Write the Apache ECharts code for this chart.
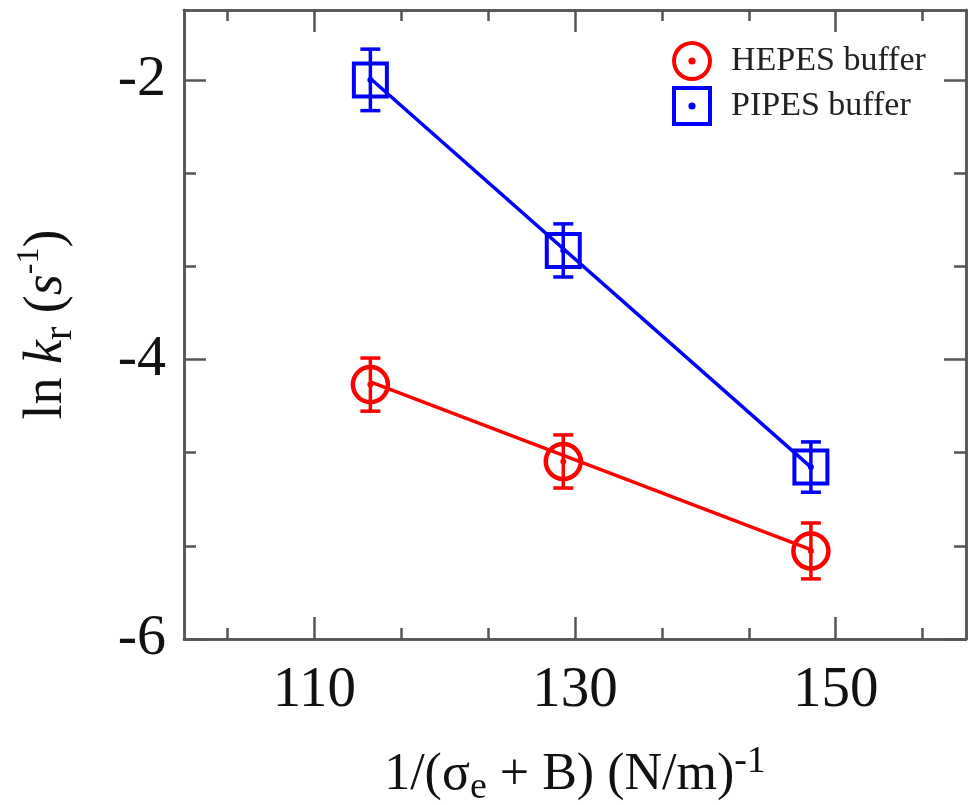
<!DOCTYPE html>
<html>
<head>
<meta charset="utf-8">
<script src="https://cdn.jsdelivr.net/npm/echarts@6/dist/echarts.min.js"></script>
<style>
html,body{margin:0;padding:0;background:#fff;}
#chart{width:974px;height:805px;}
</style>
</head>
<body>
<div id="chart"></div>
<script>
// ---- data ----
var xValues = [114.3, 129.1, 148.1];
var hepesY = [-4.18, -4.73, -5.37];
var hepesErr = [0.19, 0.19, 0.20];
var pipesY = [-2.00, -3.22, -4.77];
var pipesErr = [0.22, 0.19, 0.18];
// fitted lines (endpoints)
var hepesFitX = [114.3, 148.1];
var hepesFitY = [-4.16, -5.36];
var pipesFitX = [114.3, 148.1];
var pipesFitY = [-1.99, -4.77];
// ticks
var xMajor = [110, 130, 150];
var xMinor = [103.333, 116.667, 123.333, 136.667, 143.333, 156.667];
var yMajor = [-6, -4, -2];
var yMinor = [-5.3333, -4.6667, -3.3333, -2.6667];
var seriesNames = ['HEPES buffer', 'PIPES buffer'];

var RED = '#ff0000', BLUE = '#0000ff';
var FONT = 'Liberation Serif';
var AXC = '#555555';

function pairs(xs, ys) { return xs.map(function (x, i) { return [x, ys[i]]; }); }
function errData(xs, ys, es) { return xs.map(function (x, i) { return [x, ys[i], es[i]]; }); }

function errRender(color) {
  return function (params, api) {
    var x = api.value(0), y = api.value(1), e = api.value(2);
    var top = api.coord([x, y + e]);
    var bot = api.coord([x, y - e]);
    var hw = 10;
    var st = { stroke: color, lineWidth: 3.5 };
    return {
      type: 'group',
      children: [
        { type: 'line', shape: { x1: top[0], y1: top[1], x2: bot[0], y2: bot[1] }, style: st },
        { type: 'line', shape: { x1: top[0] - hw, y1: top[1], x2: top[0] + hw, y2: top[1] }, style: st },
        { type: 'line', shape: { x1: bot[0] - hw, y1: bot[1], x2: bot[0] + hw, y2: bot[1] }, style: st }
      ]
    };
  };
}

function xAx(pos, vals, len, labels) {
  return {
    type: 'value', position: pos, min: 100, max: 160,
    axisLine: { show: true, onZero: false, lineStyle: { color: AXC, width: 2.5 } },
    axisTick: { show: true, inside: true, length: len, customValues: vals, lineStyle: { color: AXC, width: 2.5 } },
    axisLabel: labels ? { show: true, customValues: vals, fontSize: 57, fontFamily: FONT, color: '#111', margin: 24 } : { show: false, customValues: vals },
    splitLine: { show: false }
  };
}
function yAx(pos, vals, len, labels) {
  return {
    type: 'value', position: pos, min: -6, max: -1.5,
    axisLine: { show: true, onZero: false, lineStyle: { color: AXC, width: 2.5 } },
    axisTick: { show: true, inside: true, length: len, customValues: vals, lineStyle: { color: AXC, width: 2.5 } },
    axisLabel: labels ? { show: true, customValues: vals, fontSize: 58, fontFamily: FONT, color: '#111', margin: 18 } : { show: false, customValues: vals },
    splitLine: { show: false }
  };
}

var xMain = xAx('bottom', xMajor, 22, true);
xMain.name = '{a|1/(σ}{sub|e}{a| + B) (N/m)}{sup|-1}';
xMain.nameLocation = 'middle';
xMain.nameGap = 104;
xMain.nameTextStyle = {
  fontFamily: FONT, color: '#111', fontSize: 52,
  rich: {
    a: { fontFamily: FONT, fontSize: 52, color: '#111', lineHeight: 64 },
    sub: { fontFamily: FONT, fontSize: 38, color: '#111', lineHeight: 34, verticalAlign: 'bottom' },
    sup: { fontFamily: FONT, fontSize: 38, color: '#111', lineHeight: 34, verticalAlign: 'top' }
  }
};

var yMain = yAx('left', yMajor, 22, true);
yMain.name = '{a|ln }{i|k}{sub|r}{a| (}{i|s}{sup|-1}{a|)}';
yMain.nameLocation = 'middle';
yMain.nameRotate = 90;
yMain.nameGap = 104;
yMain.nameTextStyle = {
  fontFamily: FONT, color: '#111', fontSize: 54,
  rich: {
    a: { fontFamily: FONT, fontSize: 54, color: '#111', lineHeight: 66 },
    i: { fontFamily: FONT, fontStyle: 'italic', fontSize: 54, color: '#111', lineHeight: 66 },
    sub: { fontFamily: FONT, fontSize: 40, color: '#111', lineHeight: 34, verticalAlign: 'bottom' },
    sup: { fontFamily: FONT, fontSize: 32, color: '#111', lineHeight: 30, verticalAlign: 'top' }
  }
};

var ringPath = 'path://M50 0A50 50 0 1 1 50 100A50 50 0 1 1 50 0ZM50 10A40 40 0 1 0 50 90A40 40 0 1 0 50 10ZM50 41A9 9 0 1 1 50 59A9 9 0 1 1 50 41Z';
var squarePath = 'path://M0 0H100V100H0ZM10 10V90H90V10ZM50 41A9 9 0 1 1 50 59A9 9 0 1 1 50 41Z';

var option = {
  animation: false,
  backgroundColor: '#ffffff',
  grid: { left: 184, top: 10, width: 782, height: 629, containLabel: false, outerBoundsMode: 'none' },
  legend: {
    orient: 'vertical', left: 667, top: 36,
    itemWidth: 40, itemHeight: 40, itemGap: 5,
    selectedMode: false,
    textStyle: { fontFamily: FONT, fontSize: 34, color: '#222', padding: [0, 0, 0, 14] },
    data: [
      { name: seriesNames[0], icon: ringPath, itemStyle: { color: RED, borderWidth: 0, opacity: 1 } },
      { name: seriesNames[1], icon: squarePath, itemStyle: { color: BLUE, borderWidth: 0, opacity: 1 } }
    ]
  },
  xAxis: [xMain, xAx('bottom', xMinor, 11, false), xAx('top', xMajor, 22, false), xAx('top', xMinor, 11, false)],
  yAxis: [yMain, yAx('left', yMinor, 12, false), yAx('right', yMajor, 22, false), yAx('right', yMinor, 12, false)],
  series: [
    { name: 'HEPES fit', type: 'line', data: pairs(hepesFitX, hepesFitY), showSymbol: false, symbol: 'none',
      lineStyle: { color: RED, width: 3.5 }, z: 2, silent: true },
    { name: 'PIPES fit', type: 'line', data: pairs(pipesFitX, pipesFitY), showSymbol: false, symbol: 'none',
      lineStyle: { color: BLUE, width: 3.5 }, z: 2, silent: true },
    { name: 'HEPES err', type: 'custom', data: errData(xValues, hepesY, hepesErr), renderItem: errRender(RED), z: 3, silent: true },
    { name: 'PIPES err', type: 'custom', data: errData(xValues, pipesY, pipesErr), renderItem: errRender(BLUE), z: 3, silent: true },
    { name: seriesNames[0], type: 'scatter', data: pairs(xValues, hepesY), symbol: 'circle', symbolSize: 35,
      itemStyle: { color: 'rgba(255,255,255,0)', borderColor: RED, borderWidth: 4.5, opacity: 1 }, z: 4 },
    { name: seriesNames[1], type: 'scatter', data: pairs(xValues, pipesY), symbol: 'rect', symbolSize: 33,
      itemStyle: { color: 'rgba(255,255,255,0)', borderColor: BLUE, borderWidth: 4, opacity: 1 }, z: 4 },
    { name: 'HEPES dot', type: 'scatter', data: pairs(xValues, hepesY), symbol: 'circle', symbolSize: 6,
      itemStyle: { color: RED, opacity: 1 }, z: 4 },
    { name: 'PIPES dot', type: 'scatter', data: pairs(xValues, pipesY), symbol: 'circle', symbolSize: 6,
      itemStyle: { color: BLUE, opacity: 1 }, z: 4 }
  ]
};

var chart = echarts.init(document.getElementById('chart'), null, { renderer: 'canvas' });
chart.setOption(option);
</script>
</body>
</html>
